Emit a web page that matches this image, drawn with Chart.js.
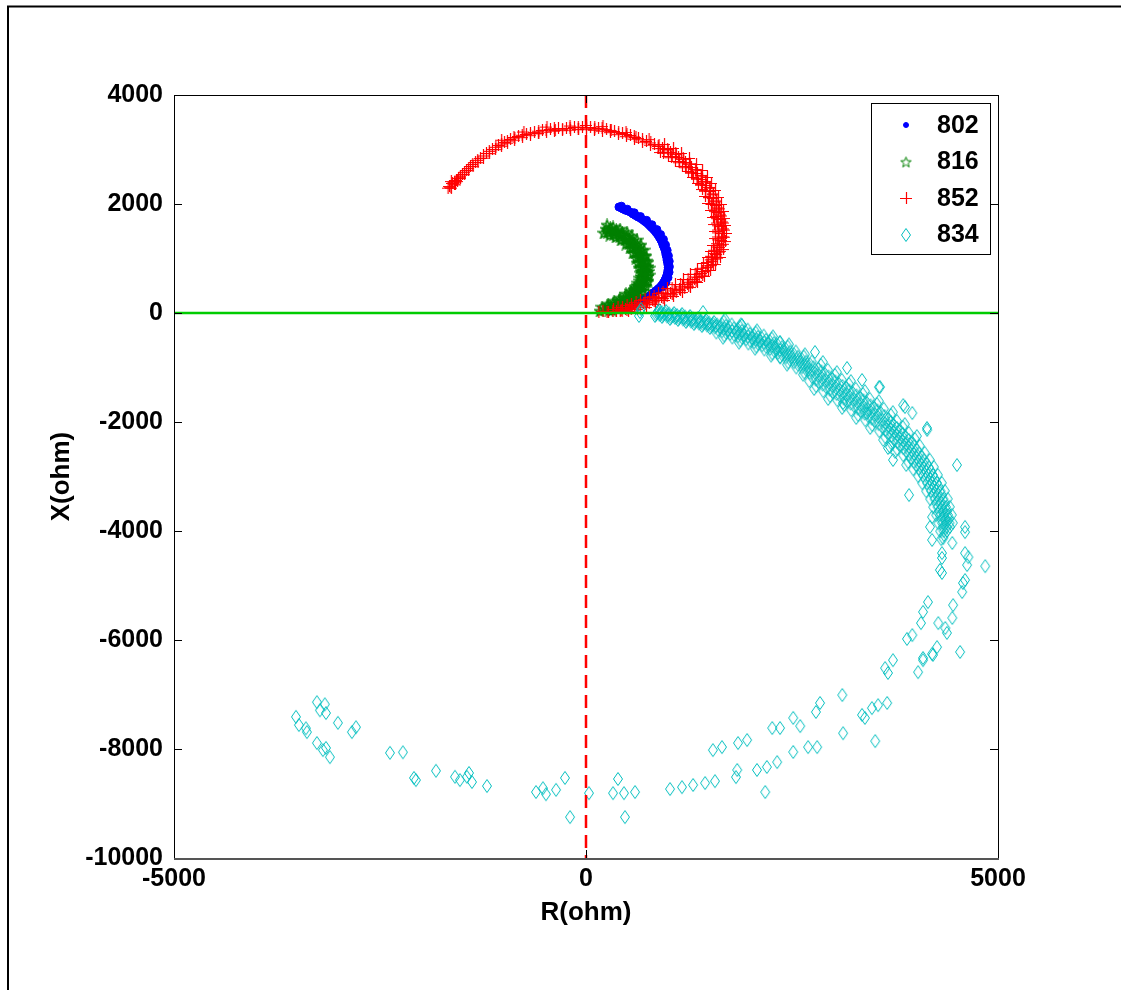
<!DOCTYPE html>
<html>
<head>
<meta charset="utf-8">
<script src="https://cdn.jsdelivr.net/npm/chart.js@4/dist/chart.umd.min.js"></script>
<style>
  html, body { margin: 0; padding: 0; background: #fff; }
  canvas { display: block; }
</style>
</head>
<body>
<canvas id="impedance" width="1121" height="990"></canvas>
<script>
// axis ticks
const tickX = [-5000, 0, 5000];
const tickY = [4000, 2000, 0, -2000, -4000, -6000, -8000, -10000];
const seriesNames = ['802', '816', '852', '834'];

// R, X pairs (ohm) per bus
const s802 = [
  [400,1945],[425,1930],[449,1908],[480,1885],[510,1872],[540,1850],[570,1817],[600,1790],[631,1762],
  [665,1735],[692,1707],[715,1680],[740,1652],[765,1615],[789,1578],[815,1540],[837,1505],[855,1470],
  [874,1431],[892,1385],[910,1340],[925,1295],[934,1248],[948,1200],[959,1156],[967,1110],[971,1065],
  [980,1020],[983,973],[990,925],[995,881],[998,835],[995,789],[990,745],[983,697],[972,650],[959,606],
  [942,560],[922,514],[900,475],[874,440],[845,405],[813,367],[785,330],[752,294],[718,265],[680,239],
  [645,210],[607,184],[570,155],[534,128],[490,110],[449,92],[405,72],[364,55],[320,45],[279,37],
  [430,1960],[500,1905],[585,1840],[660,1770],[735,1700],[800,1620],[860,1530],[905,1440],[940,1350],
  [965,1250],[985,1150],[1000,1050],[1010,950],[1012,850],[1008,750],[995,650],[970,560],[930,480]
];

const s816 = [
  [243,1541],[316,1505],[388,1468],[461,1413],[522,1340],[570,1266],[619,1174],[655,1083],[680,991],
  [704,899],[716,807],[716,716],[704,624],[680,532],[631,440],[583,367],[522,294],[449,220],[376,165],
  [303,110],[231,73],[170,37],
  [255,1615],[328,1578],[413,1541],[498,1486],[558,1413],[619,1340],[667,1248],[704,1156],[728,1046],
  [752,936],[765,826],[765,697],[752,587],[728,495],[680,404],[619,312],[558,239],[485,165],[400,110],
  [316,55],
  [218,1468],[291,1431],[364,1395],[425,1340],[485,1266],[534,1193],[570,1101],[607,1009],[631,918],
  [655,826],[667,734],[655,642],[631,550],[595,477],[546,404],[485,349],[413,275],[340,220],[267,165],
  [194,110],
  [279,1523],[352,1486],[425,1440],[492,1376],[546,1303],[595,1220],[637,1129],[667,1037],[692,945],
  [710,853],[716,761],[710,670],[692,578],[655,486],[607,404],[552,330],[485,257],[413,193],[340,138],
  [267,92],
  [294,1563],[367,1526],[440,1480],[510,1410],[570,1333],[625,1245],[672,1150],[705,1050],[730,955],
  [750,853],[756,761],[750,670],[730,575],[690,465],[630,375],[570,300],[500,222],[425,158],[352,100],
  [280,55],
  [264,1483],[337,1446],[410,1400],[474,1342],[522,1273],[565,1195],[602,1108],[630,1024],[654,935],
  [670,853],[676,761],[670,670],[654,590],[620,507],[584,432],[534,360],[470,292],[400,228],[328,176],
  [255,129]
];

const s852 = [
  [-1663,2330],[-1626,2386],[-1578,2441],[-1553,2478],[-1505,2551],[-1456,2624],[-1408,2698],[-1347,2771],
  [-1286,2844],[-1214,2936],[-1141,3009],[-1068,3083],[-995,3138],[-922,3193],[-825,3248],[-728,3285],
  [-631,3321],[-534,3358],[-437,3376],[-340,3395],[-243,3395],[-146,3413],[-49,3413],[49,3413],
  [146,3395],[243,3376],[340,3340],[437,3303],[534,3266],[631,3211],[728,3156],[825,3101],[922,3028],
  [1019,2954],[1117,2863],[1201,2771],[1274,2679],[1347,2569],[1408,2459],[1456,2349],[1505,2239],
  [1541,2110],[1578,1982],[1602,1853],[1626,1725],[1638,1596],[1651,1468],[1638,1340],[1614,1211],
  [1578,1083],[1529,954],[1468,844],[1396,734],[1311,624],[1226,532],[1129,440],[1019,367],[910,294],
  [801,239],[692,184],[583,128],[473,73],[364,37],[267,18],
  // outer edge of the right-hand arc
  [947,3101],[1056,3028],[1153,2936],[1250,2844],[1335,2734],[1408,2624],[1468,2496],[1517,2386],
  [1566,2257],[1602,2129],[1638,2000],[1663,1872],[1675,1743],[1687,1615],[1699,1468],[1687,1321],
  [1663,1174],[1626,1028],[1566,899],[1505,789],[1432,679],[1347,569],[1262,477],[1165,385],[1056,312],
  [947,239],[837,165],[728,110],[619,73],[510,37],
  // inner edge
  [898,2954],[995,2881],[1080,2789],[1165,2697],[1238,2606],[1299,2496],[1359,2386],[1408,2275],
  [1444,2147],[1481,2019],[1517,1890],[1541,1762],[1553,1633],[1566,1505],[1566,1376],[1541,1248],
  [1517,1138],[1481,1028],[1420,918],[1347,807],[1262,716],[1177,624],[1080,532],[983,459],[874,367],
  [765,294],[655,239],[546,165],[437,110],[328,73],
  // filling between the edges
  [990,3000],[1090,2920],[1180,2830],[1260,2740],[1330,2630],[1395,2520],[1450,2410],[1500,2300],
  [1540,2180],[1580,2050],[1615,1920],[1640,1790],[1660,1660],[1672,1530],[1672,1400],[1660,1270],
  [1630,1140],[1590,1015],[1540,900],[1480,790],[1410,690],[1330,590],[1240,500],[1140,420],[1040,345],
  [930,275],[820,215],[710,160],[600,105],[490,60],
  [940,2960],[1040,2880],[1130,2790],[1210,2700],[1285,2590],[1345,2480],[1400,2370],[1445,2255],
  [1490,2130],[1525,2000],[1560,1870],[1585,1740],[1598,1610],[1605,1480],[1600,1350],[1585,1220],
  [1555,1100],[1515,985],[1465,875],[1405,770],[1335,670],[1255,575],[1165,490],[1065,415],[960,340],
  [850,270],[740,205],[630,140],[520,85],[410,45],
  [985,3010],[1083,2928],[1174,2837],[1252,2745],[1325,2644],[1392,2534],[1447,2424],[1495,2314],
  [1538,2194],[1574,2066],[1605,1937],[1629,1809],[1647,1680],[1659,1552],[1659,1404],[1641,1255],
  [1611,1127],[1568,998],[1513,879],[1447,769],[1368,659],[1283,558],[1192,466],[1089,383],[979,310],
  [870,246],[761,191],[652,136],[543,80],[433,35],
  [935,2941],[1033,2858],[1124,2767],[1202,2675],[1275,2574],[1342,2464],[1397,2354],[1445,2244],
  [1488,2124],[1519,2010],[1550,1900],[1574,1780],[1592,1660],[1604,1532],[1604,1404],[1586,1280],
  [1556,1160],[1518,1050],[1463,935],[1397,830],[1318,720],[1233,620],[1142,530],[1039,450],[929,380],
  [820,316],[711,261],[602,206],[493,150],[383,105],
  // rows along the top
  [-1640,2300],[-1600,2410],[-1530,2500],[-1480,2590],[-1430,2660],[-1380,2735],[-1320,2810],[-1250,2890],
  [-1180,2975],[-1100,3050],[-1030,3110],[-960,3165],[-870,3220],[-780,3270],[-680,3300],[-580,3345],
  [-490,3365],[-390,3390],[-290,3380],[-200,3400],[-100,3420],[0,3400],[100,3405],[190,3390],[290,3360],
  [390,3320],[490,3285],[580,3240],[680,3185],[780,3130],[870,3065],
  [-1645,2318],[-1602,2374],[-1565,2420],[-1529,2475],[-1480,2548],[-1432,2621],[-1377,2695],[-1316,2768],
  [-1250,2850],[-1177,2933],[-1104,3006],[-1031,3070],[-958,3126],[-873,3181],[-776,3227],[-680,3263],
  [-582,3300],[-485,3327],[-388,3346],[-291,3355],[-194,3364],[-97,3373],[0,3373],[97,3364],[194,3346],
  [291,3318],[388,3281],[485,3245],[582,3199],[680,3144],[776,3089],[873,3025],
  // loose crosses
  [-1680,2300],[-1640,2420],[-1590,2360],[-1530,2520],[-1030,3180],[-880,3230],[-760,3330],[-580,3300],
  [-480,3420],[-380,3360],[-200,3440],[-100,3380],[0,3450],[100,3370],[200,3430],[300,3350],[480,3320],
  [600,3230],[760,3190],[880,3090],[200,40],[150,20],[320,30],[420,60],[560,100],[250,25]
];

const s834 = [
  // start cluster
  [655,18],[643,-55],[667,73],
  // core of the band
  [862,0],[947,-18],[1044,-55],[1141,-73],[1238,-110],[1335,-147],[1432,-184],[1529,-220],[1626,-257],
  [1723,-312],[1820,-349],[1917,-404],[2015,-459],[2112,-514],[2209,-569],[2306,-642],[2403,-716],
  [2500,-807],[2597,-899],[2694,-991],[2779,-1101],[2864,-1193],[2949,-1285],[3034,-1376],[3119,-1450],
  [3204,-1541],[3289,-1633],[3374,-1725],[3459,-1817],[3544,-1908],[3629,-2019],[3702,-2129],[3774,-2239],
  [3847,-2349],[3920,-2459],[3981,-2587],[4041,-2716],[4102,-2844],[4151,-2973],[4199,-3120],[4248,-3266],
  [4284,-3413],[4320,-3560],[4345,-3707],[4369,-3854],[4381,-4000],
  [905,-9],[996,-37],[1093,-64],[1190,-92],[1287,-129],[1384,-166],[1481,-202],[1578,-239],[1675,-285],
  [1772,-331],[1869,-377],[1966,-432],[2064,-487],[2161,-542],[2258,-606],[2355,-679],[2452,-762],
  [2549,-853],[2646,-945],[2737,-1046],[2822,-1147],[2907,-1239],[2992,-1331],[3077,-1413],[3162,-1496],
  [3247,-1587],[3332,-1679],[3417,-1771],[3502,-1863],[3587,-1964],[3666,-2074],[3738,-2184],[3811,-2294],
  [3884,-2404],[3951,-2523],[4011,-2652],[4072,-2780],[4127,-2909],[4175,-3047],[4224,-3193],[4266,-3340],
  [4302,-3487],[4333,-3634],[4357,-3781],[4375,-3927],
  // upper edge
  [887,55],[972,37],[1069,0],[1166,-18],[1263,-55],[1360,-92],[1457,-129],[1554,-165],[1671,-157],
  [1768,-212],[1865,-249],[1962,-304],[2060,-359],[2157,-414],[2254,-469],[2351,-542],[2448,-616],
  [2545,-707],[2642,-799],[2739,-891],[2849,-951],[2934,-1043],[3019,-1135],[3104,-1226],[3189,-1300],
  [3274,-1391],[3359,-1483],[3444,-1575],[3529,-1667],[3614,-1758],[3699,-1869],[3772,-1979],[3844,-2089],
  [3917,-2199],[3990,-2309],[4051,-2437],[4111,-2566],[4172,-2694],[4221,-2823],[4269,-2970],[4318,-3116],
  [4354,-3263],[4390,-3410],[4415,-3557],[4439,-3704],[4451,-3850],
  [1686,-117],[1880,-209],[2075,-319],[2269,-429],[2463,-576],[2657,-759],[2874,-901],[3044,-1085],
  [3214,-1250],[3384,-1433],[3554,-1617],[3724,-1819],[3869,-2039],[4015,-2259],
  // lower edge
  [837,-55],[922,-73],[1019,-110],[1116,-128],[1213,-165],[1310,-202],[1407,-239],[1504,-275],[1581,-357],
  [1678,-412],[1775,-449],[1872,-504],[1970,-559],[2067,-614],[2164,-669],[2261,-742],[2358,-816],
  [2455,-907],[2552,-999],[2649,-1091],[2709,-1251],[2794,-1343],[2879,-1435],[2964,-1526],[3049,-1600],
  [3134,-1691],[3219,-1783],[3304,-1875],[3389,-1967],[3474,-2058],[3559,-2169],[3632,-2279],[3704,-2389],
  [3777,-2499],[3850,-2609],[3911,-2737],[3971,-2866],[4032,-2994],[4081,-3123],[4129,-3270],[4178,-3416],
  [4214,-3563],[4250,-3710],[4275,-3857],[4299,-4004],[4311,-4150],
  [1663,-452],[1857,-544],[2052,-654],[2246,-782],[2440,-947],[2634,-1131],[2769,-1393],[2939,-1576],
  [3109,-1741],[3279,-1925],[3449,-2108],[3607,-2329],[3752,-2549],[3886,-2787],
  // inside the band, upper half
  [917,18],[1008,-10],[1105,-37],[1202,-65],[1299,-102],[1396,-139],[1493,-175],[1590,-212],
  [1697,-235],[1794,-281],[1891,-327],[1988,-382],[2086,-437],[2183,-492],[2280,-556],[2377,-629],
  [2474,-712],[2571,-803],[2668,-895],[2759,-996],[2857,-1072],[2942,-1164],[3027,-1256],[3112,-1338],
  [3197,-1421],[3282,-1512],[3367,-1604],[3452,-1696],[3537,-1788],[3622,-1889],[3701,-1999],[3773,-2109],
  [3846,-2219],[3919,-2329],[3986,-2448],[4046,-2577],[4107,-2705],[4162,-2834],[4210,-2972],[4259,-3118],
  [4301,-3265],[4337,-3412],[4368,-3559],[4392,-3706],[4410,-3852],
  [874,27],[959,9],[1056,-28],[1153,-46],[1250,-83],[1347,-120],[1444,-157],[1541,-193],[1648,-207],
  [1745,-262],[1842,-299],[1939,-354],[2037,-409],[2134,-464],[2231,-519],[2328,-592],[2425,-666],
  [2522,-757],[2619,-849],[2716,-941],[2814,-1026],[2899,-1118],[2984,-1210],[3069,-1301],[3154,-1375],
  [3239,-1466],[3324,-1558],[3409,-1650],[3494,-1742],[3579,-1833],[3664,-1944],[3737,-2054],[3809,-2164],
  [3882,-2274],[3955,-2384],[4016,-2512],[4076,-2641],[4137,-2769],[4186,-2898],[4234,-3045],[4283,-3191],
  [4319,-3338],[4355,-3485],[4380,-3632],[4404,-3779],[4416,-3925],
  // inside the band, lower half
  [893,-36],[984,-64],[1081,-91],[1178,-119],[1275,-156],[1372,-193],[1469,-229],[1566,-266],
  [1653,-335],[1750,-381],[1847,-427],[1944,-482],[2042,-537],[2139,-592],[2236,-656],[2333,-729],
  [2430,-812],[2527,-903],[2624,-995],[2715,-1096],[2787,-1222],[2872,-1314],[2957,-1406],[3042,-1488],
  [3127,-1571],[3212,-1662],[3297,-1754],[3382,-1846],[3467,-1938],[3552,-2039],[3631,-2149],[3703,-2259],
  [3776,-2369],[3849,-2479],[3916,-2598],[3976,-2727],[4037,-2855],[4092,-2984],[4140,-3122],[4189,-3268],
  [4231,-3415],[4267,-3562],[4298,-3709],[4322,-3856],[4340,-4002],
  [850,-27],[935,-45],[1032,-82],[1129,-100],[1226,-137],[1323,-174],[1420,-211],[1517,-247],[1604,-307],
  [1701,-362],[1798,-399],[1895,-454],[1993,-509],[2090,-564],[2187,-619],[2284,-692],[2381,-766],
  [2478,-857],[2575,-949],[2672,-1041],[2744,-1176],[2829,-1268],[2914,-1360],[2999,-1451],[3084,-1525],
  [3169,-1616],[3254,-1708],[3339,-1800],[3424,-1892],[3509,-1983],[3594,-2094],[3667,-2204],[3739,-2314],
  [3812,-2424],[3885,-2534],[3946,-2662],[4006,-2791],[4067,-2919],[4116,-3048],[4164,-3195],[4213,-3341],
  [4249,-3488],[4285,-3635],[4310,-3782],[4334,-3929],[4346,-4075],
  // strays around the band
  [1420,18],[1893,-220],[2355,-532],[2779,-716],[3168,-1009],[3350,-1229],[3568,-1358],[3871,-1725],
  [4138,-2110],[4502,-2789],[2355,-807],[3119,-1652],[3410,-1835],[3689,-2459],[3726,-2697],[3920,-3340],
  [3665,-2477],[3555,-1360],[3850,-1690],[3960,-1835],[4140,-2145],
  // right-hand swing
  [4200,-3745],[4175,-3925],[4200,-4165],[4335,-4130],[4445,-4220],[4600,-3925],[4600,-4020],[4320,-4405],
  [4320,-4495],[4600,-4405],[4640,-4480],[4625,-4625],[4845,-4645],[4295,-4715],[4320,-4770],[4600,-4900],
  [4575,-4955],[4565,-5120],[4455,-5360],[4445,-5595],[4360,-5780],[4380,-5870],[4275,-5690],[4150,-5305],
  [4090,-5485],[4065,-5690],[3960,-5910],[3895,-5980],[4260,-6130],[4200,-6255],[4090,-6330],[4030,-6590],
  [4540,-6220],[4210,-6275],[4090,-6370],[3725,-6370],[3630,-6515],[3665,-6605],
  // lower arc, right to left
  [3655,-7155],[3545,-7195],[3470,-7250],[3385,-7430],[3350,-7375],[3510,-7855],[3110,-7010],[3120,-7710],
  [2840,-7155],[2790,-7320],[2805,-7965],[2695,-7965],[2600,-7580],[2515,-7430],[2515,-8055],[2355,-7615],
  [2260,-7615],[2320,-8240],[2195,-8330],[2175,-8790],[2075,-8385],[1955,-7835],[1845,-7890],[1835,-8385],
  [1820,-8515],[1650,-7965],[1540,-8020],[1565,-8590],[1445,-8625],[1300,-8660],[1165,-8700],[1020,-8735],
  [595,-8790],[461,-8810],[388,-8550],[328,-8810],[473,-9250],[36,-8810],[-194,-9250],[-255,-8530],
  [-364,-8750],[-486,-8830],[-522,-8720],[-607,-8790],[-1202,-8680],[-1384,-8606],[-1420,-8440],
  [-1445,-8510],[-1530,-8570],[-1590,-8510],[-1821,-8400],[-2064,-8570],[-2088,-8530],[-2222,-8060],
  [-2379,-8070],[-3108,-8150],[-3156,-7980],[-3193,-8020],[-3266,-7890],[-2792,-7600],[-2841,-7690],
  [-3011,-7520],[-3387,-7690],[-3399,-7620],[-3484,-7560],[-3520,-7410],[-3156,-7340],[-3229,-7290],
  [-3169,-7180],[-3266,-7140]
];

// marker sprites
function sprite(w, h, color, lw, path) {
  const c = document.createElement('canvas');
  c.width = w; c.height = h;
  const g = c.getContext('2d');
  g.strokeStyle = color;
  g.lineWidth = lw;
  g.beginPath();
  path(g);
  g.stroke();
  return c;
}

const diamondMarker = color => sprite(12, 16, color, 1, g => {
  g.moveTo(6, 1.5); g.lineTo(10.5, 8); g.lineTo(6, 14.5); g.lineTo(1.5, 8);
  g.closePath();
});

const plusMarker = color => sprite(12, 12, color, 1.2, g => {
  g.moveTo(0, 6.5); g.lineTo(12, 6.5);
  g.moveTo(6.5, 0); g.lineTo(6.5, 12);
});

const starMarker = (color, lw) => sprite(13, 13, color, lw, g => {
  for (let i = 0; i < 10; i++) {
    const r = i % 2 ? 2.3 : 5.5;
    const a = -Math.PI / 2 + i * Math.PI / 5;
    const px = 6.5 + r * Math.cos(a), py = 7 + r * Math.sin(a);
    if (i === 0) g.moveTo(px, py); else g.lineTo(px, py);
  }
  g.closePath();
});

const toPts = arr => arr.map(p => ({x: p[0], y: p[1]}));
const FONT = 'Liberation Sans, Arial, Helvetica, sans-serif';

const styles = {
  '802': {pointStyle: 'circle', pointRadius: 4, pointBackgroundColor: '#0000ff', pointBorderColor: '#0000ff', pointBorderWidth: 1},
  '816': {pointStyle: starMarker('#008000', 1.5), pointRadius: 6, pointBorderWidth: 1},
  '852': {pointStyle: plusMarker('#ff0000'), pointRadius: 6, pointBorderWidth: 1},
  '834': {pointStyle: diamondMarker('#00bfbf'), pointRadius: 7, pointBorderWidth: 1}
};
const legendMarks = {
  '802': {pointStyle: 'circle', radius: 2.5},
  '816': {pointStyle: starMarker('#008000', 1), radius: 6},
  '852': {pointStyle: plusMarker('#ff0000'), radius: 6},
  '834': {pointStyle: styles['834'].pointStyle, radius: 7}
};
const seriesData = {'802': s802, '816': s816, '852': s852, '834': s834};
const drawOrder = {'834': 1, '852': 2, '816': 3, '802': 4};

// outer frame of the figure
const frame = {
  id: 'frame',
  beforeDraw(chart) {
    const ctx = chart.ctx;
    ctx.save();
    ctx.fillStyle = '#fff';
    ctx.fillRect(0, 0, chart.width, chart.height);
    ctx.strokeStyle = '#000';
    ctx.lineWidth = 2;
    ctx.strokeRect(8, 6.5, 2000, 2000);
    ctx.restore();
  }
};

// box round the plot with inward ticks on all sides
const axesBox = {
  id: 'axesBox',
  afterDatasetsDraw(chart) {
    const {ctx, chartArea: a, scales} = chart;
    const len = 8;
    ctx.save();
    ctx.strokeStyle = '#000';
    ctx.lineWidth = 1;
    ctx.strokeRect(a.left + 0.5, a.top + 0.5, a.right - a.left, a.bottom - a.top);
    ctx.beginPath();
    tickY.forEach(v => {
      const y = Math.round(scales.y.getPixelForValue(v)) + 0.5;
      ctx.moveTo(a.left, y); ctx.lineTo(a.left + len, y);
      ctx.moveTo(a.right, y); ctx.lineTo(a.right - len, y);
    });
    tickX.forEach(v => {
      const x = Math.round(scales.x.getPixelForValue(v)) + 0.5;
      ctx.moveTo(x, a.top); ctx.lineTo(x, a.top + len);
      ctx.moveTo(x, a.bottom); ctx.lineTo(x, a.bottom - len);
    });
    ctx.stroke();
    ctx.strokeStyle = '#555';
    ctx.lineWidth = 2;
    ctx.beginPath();
    ctx.moveTo(a.left, a.bottom + 1); ctx.lineTo(a.right + 1, a.bottom + 1);
    ctx.stroke();
    ctx.restore();
  }
};

// legend box in the upper right corner
const cornerLegend = {
  id: 'cornerLegend',
  afterDraw(chart) {
    const {ctx, chartArea: a} = chart;
    const w = 119, h = 151;
    const left = a.right - 8 - w, top = a.top + 8;
    ctx.save();
    ctx.fillStyle = '#fff';
    ctx.fillRect(left, top, w, h);
    ctx.strokeStyle = '#000';
    ctx.lineWidth = 1;
    ctx.strokeRect(left + 0.5, top + 0.5, w, h);
    ctx.font = 'bold 25px ' + FONT;
    ctx.textBaseline = 'middle';
    ctx.textAlign = 'left';
    seriesNames.forEach((name, i) => {
      const y = top + 22 + i * 36.5;
      const mk = legendMarks[name];
      ctx.fillStyle = '#0000ff';
      ctx.strokeStyle = '#0000ff';
      ctx.lineWidth = 1;
      Chart.helpers.drawPoint(ctx, {
        pointStyle: mk.pointStyle, radius: mk.radius, rotation: 0, borderWidth: 1
      }, Math.round(left + 35), Math.round(y));
      ctx.fillStyle = '#000';
      ctx.fillText(name, left + 66, y + 1);
    });
    ctx.restore();
  }
};

const datasets = [
  {
    label: 'R = 0',
    data: [{x: 0, y: 4000}, {x: 0, y: -10000}],
    showLine: true, pointRadius: 0,
    borderColor: '#ff0000', borderWidth: 2.5, borderDash: [13, 7],
    order: 0
  },
  {
    label: 'X = 0',
    data: [{x: -5000, y: 0}, {x: 5000, y: 0}],
    showLine: true, pointRadius: 0,
    borderColor: '#00cc00', borderWidth: 2.5,
    order: 0
  }
];
seriesNames.forEach(name => {
  datasets.push(Object.assign({
    label: name,
    data: toPts(seriesData[name]),
    showLine: false,
    order: drawOrder[name]
  }, styles[name]));
});

new Chart(document.getElementById('impedance'), {
  type: 'scatter',
  data: {datasets},
  plugins: [frame, axesBox, cornerLegend],
  options: {
    responsive: false,
    animation: false,
    events: [],
    layout: {padding: {left: 0, top: 95, right: 123, bottom: 0}},
    plugins: {legend: {display: false}, tooltip: {enabled: false}},
    scales: {
      x: {
        type: 'linear', min: -5000, max: 5000,
        grid: {display: false, drawTicks: false},
        border: {display: false},
        afterBuildTicks: s => { s.ticks = tickX.map(v => ({value: v})); },
        afterFit: s => { s.height = 132; },
        ticks: {
          autoSkip: false, maxRotation: 0, padding: 6, color: '#000',
          font: {family: FONT, size: 25, weight: 'bold'},
          callback: v => String(v)
        },
        title: {
          display: true, text: 'R(ohm)', color: '#000',
          font: {family: FONT, size: 26, weight: 'bold'},
          padding: {top: 0, bottom: 62}
        }
      },
      y: {
        type: 'linear', min: -10000, max: 4000,
        grid: {display: false, drawTicks: false},
        border: {display: false},
        afterBuildTicks: s => { s.ticks = tickY.map(v => ({value: v})); },
        afterFit: s => { s.width = 174; },
        ticks: {
          autoSkip: false, padding: 11, color: '#000',
          font: {family: FONT, size: 25, weight: 'bold'},
          callback: v => String(v)
        },
        title: {
          display: true, text: 'X(ohm)', color: '#000',
          font: {family: FONT, size: 26, weight: 'bold'},
          padding: {top: 46, bottom: 0}
        }
      }
    }
  }
});
</script>
</body>
</html>
